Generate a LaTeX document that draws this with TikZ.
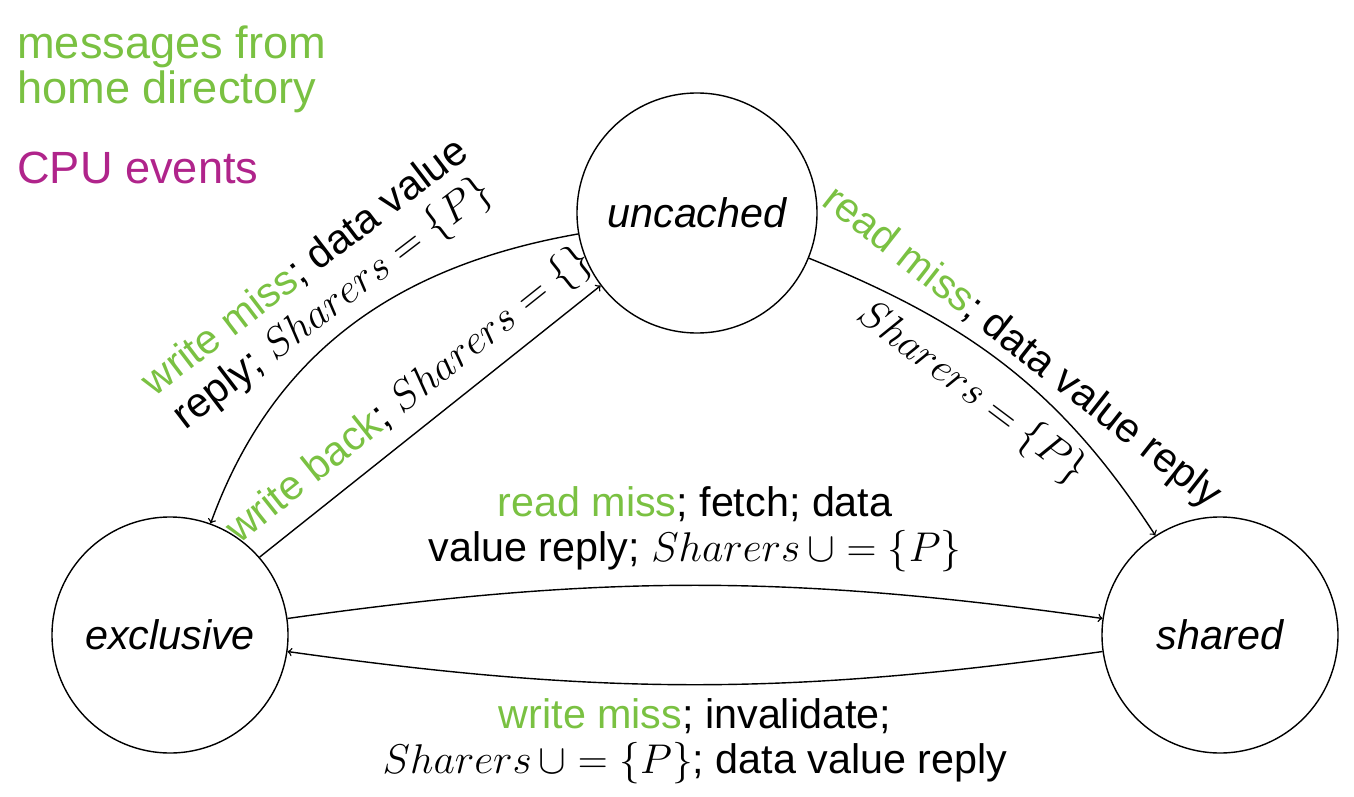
\documentclass[tikz,border=0pt]{standalone}
\usepackage{amsmath}
\usepackage{amssymb}
\usepackage{graphicx}
\usepackage{fontspec}
\setmainfont{Liberation Sans}
\usepackage{tikz}
\usetikzlibrary{positioning}

\definecolor{msggreen}{RGB}{122,193,66}
\definecolor{cpupurple}{RGB}{176,36,139}
\newcommand{\msg}[1]{\textcolor{msggreen}{#1}}
\newcommand{\mth}[1]{\scalebox{0.95}{$#1$}}
\newcommand{\labelsize}{\fontsize{23.5}{25.6}\selectfont}

\begin{document}
\begin{tikzpicture}[font=\labelsize,
  state/.style={circle,draw,line width=0.8pt,minimum size=4.72cm,inner sep=0pt,font=\labelsize\itshape},
  lbl/.style={align=center,inner sep=2pt}]
\useasboundingbox (0,0) rectangle (27.08,15.92);
\node[state,minimum size=4.8cm] (uncached) at (13.94,11.66) {uncached};
\node[state] (exclusive) at (3.4,3.22) {exclusive};
\node[state] (shared) at (24.4,3.22) {shared};

% legend
\node[anchor=north west,align=left,inner sep=0pt,text=msggreen,font=\fontsize{25.7}{25.6}\selectfont] (legendmsg) at (0.34,15.42) {messages from\\home directory};
\node[anchor=base west,inner sep=0pt,text=cpupurple,font=\fontsize{25.7}{25.6}\selectfont] (legendcpu) at (0.34,12.26) {CPU events};

\path[->,line width=0.8pt]
  (uncached) edge[out=190,in=70] node[lbl,sloped,above=0.05cm] {\msg{write miss}; data value\\reply; \mth{Sharers=\{P\}}} (exclusive)
  (exclusive.41) edge node[lbl,sloped,above=0.15cm] {\msg{write back}; \mth{Sharers=\{\}}} (uncached.217)
  (uncached) edge[out=-22,in=123] node[lbl,sloped,above] {\msg{read miss}; data value reply}
                                  node[lbl,sloped,below=0.35cm,pos=0.47] {\mth{Sharers=\{P\}}} (shared)
  (exclusive) edge[bend left=8] node[lbl,above=0.18cm] {\msg{read miss}; fetch; data\\value reply; \mth{Sharers\,\cup=\{P\}}} (shared)
  (shared) edge[bend left=8] node[lbl,below=0.2cm] {\msg{write miss}; invalidate;\\\mth{Sharers\,\cup=\{P\}}; data value reply} (exclusive)
  ;
\end{tikzpicture}
\end{document}
